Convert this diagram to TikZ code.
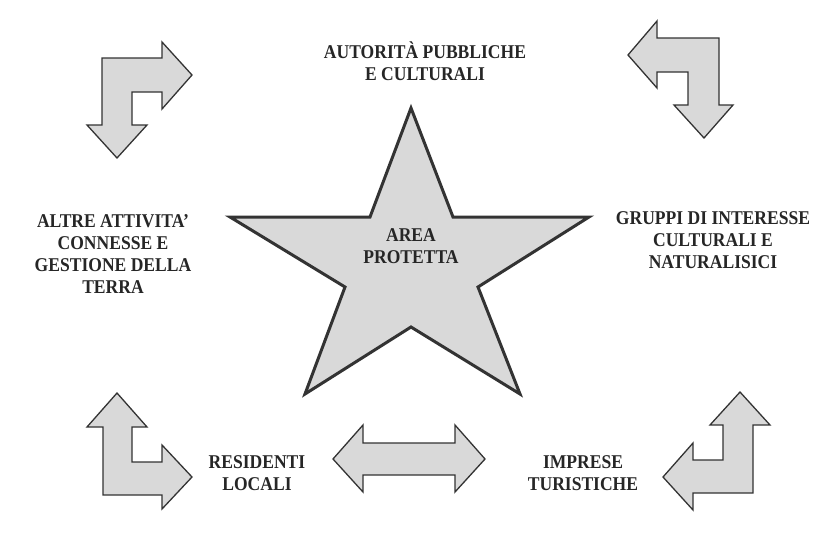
\documentclass[tikz,border=0pt]{standalone}
\usepackage{fontspec}
\setmainfont{Liberation Serif}[FakeStretch=0.9]
\begin{document}
\begin{tikzpicture}[x=1pt,y=-1pt,
  lbl/.style={font=\fontsize{19.5}{22}\selectfont\bfseries, align=center, inner sep=0pt, anchor=base, text=black!85},
  shp/.style={draw=black!80, fill=black!15, line width=1.3pt, line join=miter},
  starshp/.style={draw=black!80, fill=black!15, line width=3pt, line join=miter}]
\useasboundingbox[fill=white] (0,0) rectangle (816,557);

% central star
\draw[starshp] (411,108) -- (453,217) -- (589,217) -- (478,287) -- (520,394)
  -- (411,327) -- (305,394) -- (345,287) -- (230,217) -- (370,217) -- cycle;

% top-left bent arrow
\draw[shp] (102,58) -- (162,58) -- (162,42) -- (192,75) -- (162,109) -- (162,92)
  -- (132,92) -- (132,125) -- (147,125) -- (117,158) -- (87,125) -- (102,125) -- cycle;
% top-right bent arrow
\draw[shp] (628,55) -- (657,21) -- (657,38) -- (719,38) -- (719,105) -- (733,105)
  -- (704,138) -- (674,105) -- (688,105) -- (688,72) -- (657,72) -- (657,88) -- cycle;
% bottom-left bent arrow
\draw[shp] (117,393) -- (147,427) -- (132,427) -- (132,462) -- (162,462) -- (162,445)
  -- (192,477) -- (162,509) -- (162,495) -- (103,495) -- (103,427) -- (87,427) -- cycle;
% bottom-right bent arrow
\draw[shp] (740,392) -- (770,425) -- (753,425) -- (753,493) -- (693,493) -- (693,510)
  -- (663,477) -- (693,443) -- (693,460) -- (723,460) -- (723,425) -- (710,425) -- cycle;
% double arrow
\draw[shp] (333,459) -- (363,425) -- (363,443) -- (455,443) -- (455,425) -- (485,459)
  -- (455,492) -- (455,475) -- (363,475) -- (363,492) -- cycle;

% labels (base anchor = baseline of the last line)
\node[lbl] (aut) at (425,80) {AUTORITÀ PUBBLICHE\\E CULTURALI};
\node[lbl] (altre) at (113,293) {ALTRE ATTIVITA'\\CONNESSE E\\GESTIONE DELLA\\TERRA};
\node[lbl] (grp) at (713,268) {GRUPPI DI INTERESSE\\CULTURALI E\\NATURALISICI};
\node[lbl] (res) at (257,490) {RESIDENTI\\LOCALI};
\node[lbl] (imp) at (583,490) {IMPRESE\\TURISTICHE};
\node[lbl] (area) at (411,263) {AREA\\PROTETTA};
\end{tikzpicture}
\end{document}
